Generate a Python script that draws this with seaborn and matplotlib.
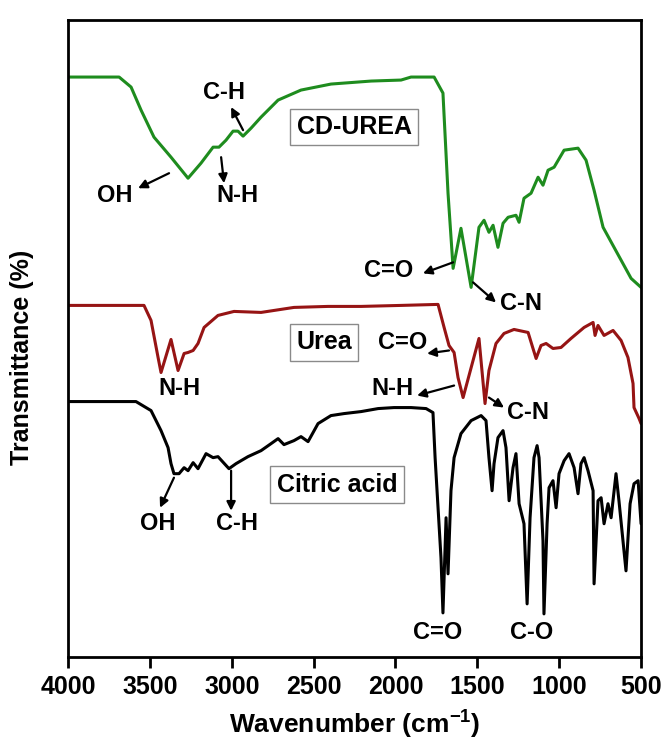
import matplotlib
matplotlib.use("Agg")
import pandas as pd
import matplotlib.pyplot as plt
import seaborn as sns

# FTIR spectra (wavenumber in cm-1, stacked transmittance in a.u.)
wn_cd = [4000, 3688, 3615, 3554, 3475, 3371, 3267, 3188, 3114, 3078, 3035, 2992, 2962, 2931, 2882,
         2821, 2717, 2577, 2394, 2149, 1966, 1905, 1764, 1710, 1679, 1648, 1600, 1538, 1490, 1459,
         1429, 1404, 1374, 1343, 1312, 1264, 1245, 1215, 1172, 1129, 1099, 1068, 1031, 970, 885,
         836, 787, 732, 665, 561, 500]
t_cd = [579, 579, 569, 546, 519, 499, 478, 493, 509, 509, 516, 525, 525, 520, 528,
        539, 556, 566, 572, 575, 576, 579, 579, 563, 463, 388, 428, 369, 429, 436,
        424, 431, 409, 433, 439, 441, 434, 458, 463, 479, 471, 486, 489, 506, 508,
        496, 466, 429, 409, 378, 369]

wn_urea = [4000, 3536, 3493, 3450, 3432, 3371, 3328, 3291, 3267, 3236, 3206, 3169, 3084, 2986, 2821,
           2620, 2412, 2210, 1966, 1740, 1703, 1673, 1642, 1618, 1587, 1490, 1453, 1429, 1386, 1337,
           1276, 1190, 1160, 1141, 1111, 1080, 1038, 989, 928, 848, 793, 781, 763, 726, 671,
           622, 580, 549, 543, 512, 500]
t_urea = [351, 351, 336, 299, 284, 317, 286, 303, 304, 306, 313, 329, 341, 345, 344,
          349, 350, 350, 351, 352, 329, 311, 304, 279, 259, 318, 253, 286, 313, 323,
          327, 324, 308, 298, 311, 313, 308, 309, 318, 329, 334, 321, 331, 321, 326,
          316, 299, 273, 249, 238, 233]

wn_ca = [4000, 3585, 3493, 3432, 3389, 3371, 3353, 3322, 3291, 3267, 3236, 3206, 3157, 3114, 3084,
         3017, 2974, 2901, 2821, 2760, 2717, 2681, 2620, 2577, 2534, 2473, 2394, 2314, 2210, 2106,
         2009, 1905, 1813, 1771, 1758, 1740, 1722, 1710, 1691, 1679, 1661, 1642, 1600, 1538, 1477,
         1447, 1429, 1410, 1398, 1374, 1343, 1325, 1306, 1282, 1264, 1245, 1215, 1196, 1178, 1154,
         1135, 1123, 1099, 1093, 1074, 1062, 1038, 1019, 1001, 970, 940, 909, 885, 867, 848,
         824, 793, 787, 763, 744, 726, 702, 683, 653, 635, 592, 567, 543, 518, 500]
t_ca = [255, 255, 246, 226, 209, 193, 183, 183, 189, 186, 194, 188, 203, 199, 200,
        188, 193, 200, 206, 213, 218, 212, 216, 220, 215, 233, 241, 243, 245, 248,
        249, 249, 248, 244, 199, 149, 99, 44, 139, 83, 166, 199, 223, 236, 241,
        236, 199, 166, 193, 219, 226, 209, 156, 189, 203, 153, 133, 53, 139, 199,
        211, 199, 116, 43, 133, 169, 176, 149, 183, 196, 203, 189, 163, 193, 199,
        186, 166, 73, 156, 159, 133, 153, 139, 183, 156, 86, 153, 173, 176, 133]

samples = ["CD-UREA", "Urea", "Citric acid"]
colors = ["#1e8c1e", "#961414", "#000000"]
xticks = [4000, 3500, 3000, 2500, 2000, 1500, 1000, 500]

df = pd.concat([
    pd.DataFrame({"wn": wn_cd, "t": t_cd, "sample": samples[0]}),
    pd.DataFrame({"wn": wn_urea, "t": t_urea, "sample": samples[1]}),
    pd.DataFrame({"wn": wn_ca, "t": t_ca, "sample": samples[2]}),
])

sns.set_style("ticks")
plt.rcParams["font.family"] = ["Liberation Sans", "DejaVu Sans"]
plt.rcParams["mathtext.fontset"] = "custom"
plt.rcParams["mathtext.rm"] = "Liberation Sans"
plt.rcParams["mathtext.bf"] = "Liberation Sans:bold"
plt.rcParams["text.color"] = "black"
plt.rcParams["axes.labelcolor"] = "black"
plt.rcParams["xtick.color"] = "black"

fig = plt.figure(figsize=(6.65, 7.42), dpi=100)
ax = fig.add_axes([0.1023, 0.1146, 0.8617, 0.8585])

sns.lineplot(data=df, x="wn", y="t", hue="sample", palette=colors, hue_order=samples,
             estimator=None, sort=False, legend=False, linewidth=2.2, ax=ax)

ax.set_xlim(4000, 500)
ax.set_ylim(0, 636)
ax.set_xticks(xticks)
ax.set_xticklabels([str(v) for v in xticks], fontweight="bold", fontsize=18)
ax.set_yticks([])
ax.tick_params(axis="x", direction="out", length=8, width=2, pad=5, colors="black")
for s in ax.spines.values():
    s.set_linewidth(2)
    s.set_color("black")

ax.set_xlabel(r"Wavenumber (cm$^{\mathbf{-1}}$)", fontsize=19, fontweight="bold", labelpad=6)
ax.set_ylabel("Transmittance (%)", fontsize=18, fontweight="bold")
ax.yaxis.set_label_coords(-0.059, 0.47)

arrow = dict(arrowstyle="-|>", color="black", lw=1.6, mutation_scale=13, shrinkA=0, shrinkB=0)


def label(txt, x, y, tail=None, head=None):
    ax.text(x, y, txt, ha="center", va="center", fontsize=17, fontweight="bold", color="black")
    if tail is not None:
        ax.annotate("", xy=head, xytext=tail, arrowprops=arrow)


def box(txt, x, y):
    ax.text(x, y, txt, ha="center", va="center", fontsize=18, fontweight="bold", color="black",
            bbox=dict(boxstyle="square,pad=0.25", fc="white", ec="#8a8a8a", lw=1))


# CD-UREA
label("C-H", 3047, 564, tail=(2931, 526), head=(3004, 549))
label("N-H", 2968, 461, tail=(3065, 499), head=(3047, 473))
label("OH", 3713, 461, tail=(3383, 483), head=(3572, 468))
label("C=O", 2039, 386, tail=(1648, 394), head=(1832, 383))
label("C-N", 1233, 353, tail=(1526, 374), head=(1386, 354))
box("CD-UREA", 2253, 529)

# Urea
label("N-H", 3322, 268)
label("C=O", 1954, 314, tail=(1673, 306), head=(1807, 303))
label("N-H", 2021, 268, tail=(1642, 271), head=(1868, 261))
label("C-N", 1190, 244, tail=(1429, 259), head=(1337, 249))
box("Urea", 2436, 314)

# Citric acid
label("OH", 3450, 133, tail=(3353, 179), head=(3438, 149))
label("C-H", 2968, 133, tail=(3004, 186), head=(3004, 146))
label("C=O", 1740, 24)
label("C-O", 1166, 24)
box("Citric acid", 2357, 172)

fig.savefig("out.png", dpi=100)
